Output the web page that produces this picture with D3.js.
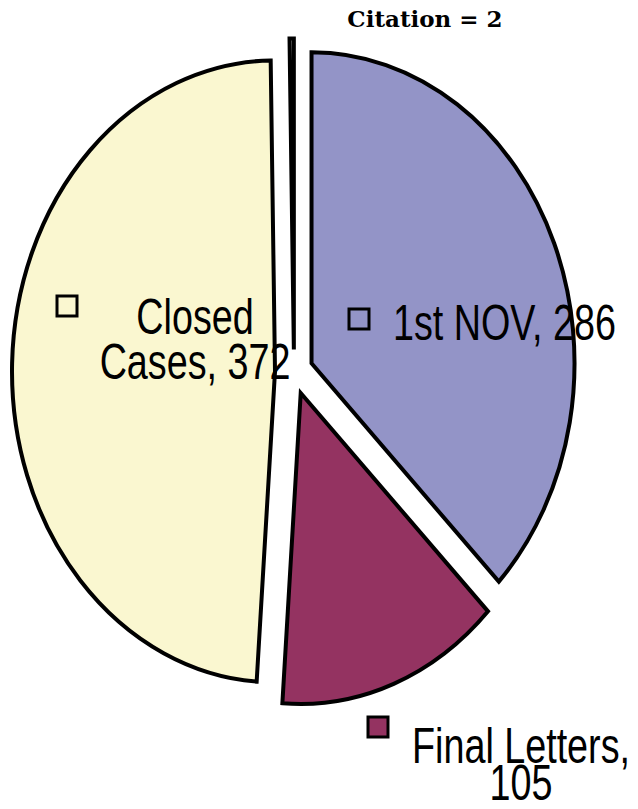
<!DOCTYPE html>
<html>
<head>
<meta charset="utf-8">
<script src="https://cdn.jsdelivr.net/npm/d3@7"></script>
<style>
  html, body { margin: 0; padding: 0; background: #fff; }
  svg { display: block; }
  .lbl { font-family: "Liberation Sans", Arial, sans-serif; font-size: 46px; fill: #000; }
  .title { font-family: "DejaVu Serif", serif; font-weight: bold; font-size: 23px; fill: #000; }
</style>
</head>
<body>
<div id="chart"></div>
<script>
// --- data ---
const categories = ['1st NOV', 'Final Letters', 'Closed Cases', 'Citation'];
const values = [286, 105, 372, 2];
const colors = ['#9394C7', '#943361', '#FAF7D0', '#FFFFFF'];
const titleText = 'Citation = 2';

// --- layout ---
const width = 638, height = 809;
const cx = 294, cy = 372;
const rx = 263, ry = 311;
const sy = ry / rx;          // pie is stretched vertically
const explode = 19;          // offset in circle units

// label boxes (Excel placed them by hand)
const labelLayout = [
    { x: 393, y: 340, anchor: 'start', gap: 40, lines: ['1st NOV, 286'], key: [349, 309] },
    { x: 521, y: 763, anchor: 'middle', gap: 34, lines: ['Final Letters,', '105'], key: [368, 717] },
    { x: 195, y: 334, anchor: 'middle', gap: 41, lines: ['Closed', 'Cases, 372'], key: [57, 296] },
    null
];

const svg = d3.select('#chart').append('svg')
    .attr('width', width)
    .attr('height', height);

const pie = d3.pie().sort(null).value(d => d)(values);
const arc = d3.arc().innerRadius(0).outerRadius(rx);

const slices = svg.append('g').selectAll('g.slice')
    .data(pie)
    .join('g')
    .attr('class', 'slice')
    .attr('transform', d => {
        const mid = (d.startAngle + d.endAngle) / 2;
        const ox = cx + Math.sin(mid) * explode;
        const oy = cy - Math.cos(mid) * explode * sy;
        return `translate(${ox},${oy}) scale(1,${sy})`;
    });

slices.append('path')
    .attr('d', arc)
    .attr('fill', (d, i) => colors[i])
    .attr('stroke', '#000')
    .attr('stroke-width', 4)
    .attr('stroke-linejoin', 'miter')
    .attr('vector-effect', 'non-scaling-stroke');

// --- labels with legend keys ---
labelLayout.forEach((L, i) => {
    if (!L) return;
    svg.append('rect')
        .attr('x', L.key[0]).attr('y', L.key[1])
        .attr('width', 20).attr('height', 20)
        .attr('fill', colors[i])
        .attr('stroke', '#000')
        .attr('stroke-width', 3);

    // narrow, slightly tall lettering like the original
    const t = svg.append('text')
        .attr('class', 'lbl')
        .attr('text-anchor', L.anchor)
        .attr('transform', `translate(${L.x},${L.y}) scale(0.82,1.1)`);
    L.lines.forEach((s, k) => {
        t.append('tspan')
            .attr('x', 0)
            .attr('y', k * L.gap)
            .text(s);
    });
});

svg.append('text')
    .attr('class', 'title')
    .attr('x', 425)
    .attr('y', 27)
    .attr('text-anchor', 'middle')
    .text(titleText);
</script>
</body>
</html>
